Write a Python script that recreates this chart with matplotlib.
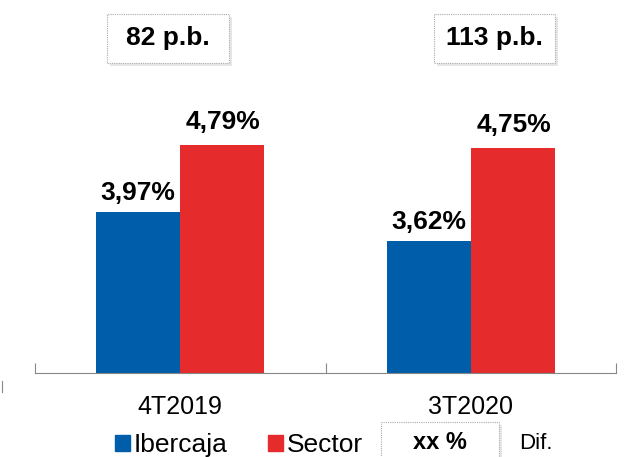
import matplotlib.pyplot as plt
from matplotlib.patches import Rectangle
import numpy as np

plt.rcParams['font.family'] = ['Liberation Sans', 'DejaVu Sans']

periodos = ["4T2019", "3T2020"]
ibercaja = [3.97, 3.62]
sector = [4.79, 4.75]
etiq_ibercaja = ["3,97%", "3,62%"]
etiq_sector = ["4,79%", "4,75%"]
diferencias = ["82 p.b.", "113 p.b."]

azul = "#005DAA"
rojo = "#E52B2B"
W, H = 626, 457

fig = plt.figure(figsize=(W / 100, H / 100), dpi=100)
ax = fig.add_axes([35 / W, (H - 373) / H, 581 / W, 373 / H])

x = np.arange(len(periodos))
base = 2.0
bw = 0.29
ax.bar(x - bw / 2, np.array(ibercaja) - base, bw, bottom=base, color=azul)
ax.bar(x + bw / 2, np.array(sector) - base, bw, bottom=base, color=rojo)

for i in range(len(periodos)):
    ax.annotate(etiq_ibercaja[i], (x[i] - bw / 2, ibercaja[i]), xytext=(0, 12),
                textcoords="offset pixels", ha="center", va="baseline",
                fontsize=19, fontweight="bold")
    ax.annotate(etiq_sector[i], (x[i] + bw / 2, sector[i]), xytext=(1, 16),
                textcoords="offset pixels", ha="center", va="baseline",
                fontsize=19, fontweight="bold")

ax.set_xlim(-0.5, 1.5)
ax.set_ylim(base, base + 373 / 81.7)
ax.set_xticks([-0.5, 0.5, 1.5])
ax.set_xticklabels([])
ax.tick_params(axis="x", length=7, color="#888888", direction="in")
ax.set_xticks(x, minor=True)
ax.set_xticklabels(periodos, minor=True, fontsize=18)
ax.tick_params(axis="x", which="minor", length=0, pad=16)
ax.set_yticks([])
for s in ["top", "right", "left"]:
    ax.spines[s].set_visible(False)
ax.spines["bottom"].set_color("#888888")


# cajas de diferencia
def caja(x0, y0, w, h, texto, size):
    sombra = Rectangle((x0 + 3 / W, y0 - 3 / H), w, h, transform=fig.transFigure,
                       facecolor="#e6e6e6", edgecolor="none")
    fig.patches.append(sombra)
    r = Rectangle((x0, y0), w, h, transform=fig.transFigure, facecolor="white",
                  edgecolor="#aaaaaa", linestyle=(0, (1, 1)), linewidth=0.8)
    fig.patches.append(r)
    if texto:
        fig.text(x0 + w / 2, y0 + h / 2, texto, ha="center", va="center",
                 fontsize=size, fontweight="bold")


caja(107 / W, (H - 63) / H, 122 / W, 49 / H, diferencias[0], 19)
caja(434 / W, (H - 63) / H, 121 / W, 49 / H, diferencias[1], 19)

# leyenda
fig.patches.append(Rectangle((115 / W, (H - 451) / H), 15 / W, 16 / H,
                             transform=fig.transFigure, color=azul))
fig.text(134 / W, (H - 452) / H, "Ibercaja", fontsize=19, va="baseline")
fig.patches.append(Rectangle((268 / W, (H - 451) / H), 15 / W, 16 / H,
                             transform=fig.transFigure, color=rojo))
fig.text(287 / W, (H - 452) / H, "Sector", fontsize=19, va="baseline")
caja(381 / W, -10 / H, 118 / W, 45 / H, "", 12)
fig.text(440 / W, (H - 449) / H, "xx %", fontsize=17, fontweight="bold",
         ha="center", va="baseline")
fig.text(519 / W, (H - 449) / H, "Dif.", fontsize=16, va="baseline")

fig.add_artist(plt.Line2D([2 / W, 2 / W], [(H - 392) / H, (H - 381) / H],
                          transform=fig.transFigure, color="#888888", lw=0.8))

fig.savefig("out.png", dpi=100)
